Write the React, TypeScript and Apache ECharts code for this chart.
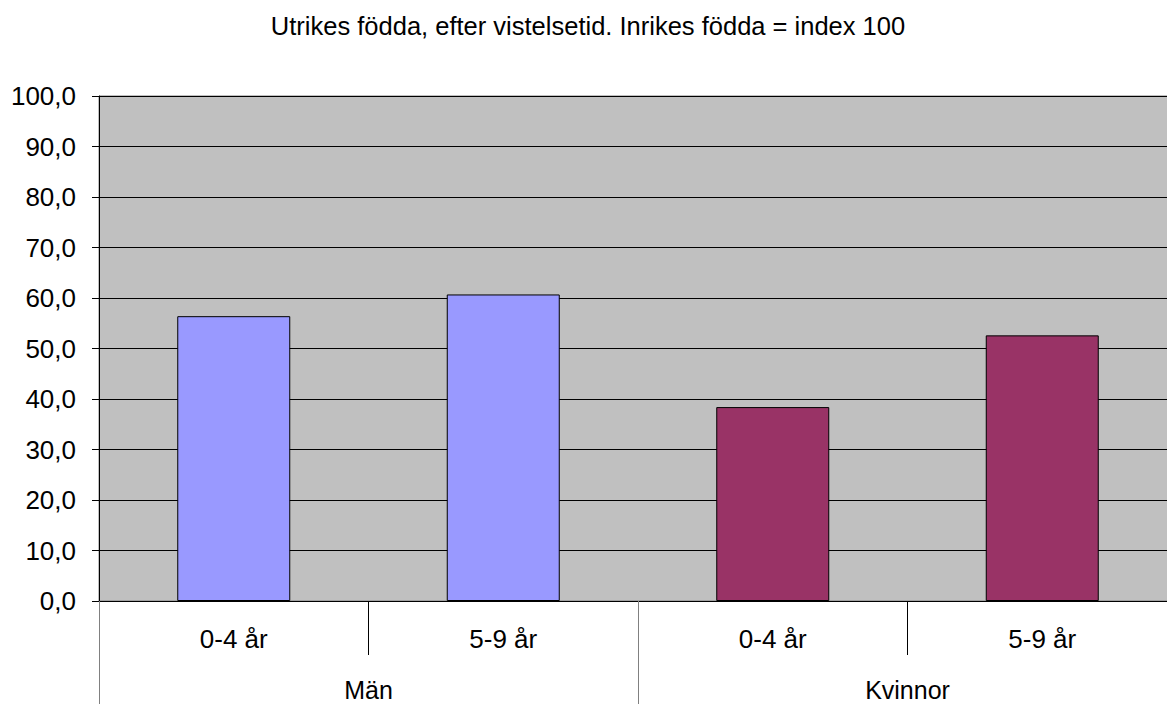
import React, { useEffect, useRef } from "react";
import * as echarts from "echarts";

const titleText = "Utrikes födda, efter vistelsetid. Inrikes födda = index 100";
const subCategories = ["0-4 år", "5-9 år", "0-4 år", "5-9 år"];
const groupCategories = ["Män", "Kvinnor"];
const values = [56.4, 60.7, 38.4, 52.6];
const barColors = ["#9999FF", "#9999FF", "#993366", "#993366"];
const yMin = 0;
const yMax = 100;
const yInterval = 10;

const FONT = "'Liberation Sans', Arial, sans-serif";

export default function App() {
  const ref = useRef<HTMLDivElement>(null);
  useEffect(() => {
    if (!ref.current) return;
    const chart = echarts.init(ref.current, undefined, { renderer: "svg" });
    chart.setOption({
      animation: false,
      backgroundColor: "#ffffff",
      textStyle: { fontFamily: FONT },
      graphic: [
        {
          type: "text",
          x: 588,
          y: 26,
          style: {
            text: titleText,
            fill: "#000",
            font: `25.5px ${FONT}`,
            align: "center",
            verticalAlign: "middle",
            textAlign: "center",
            textVerticalAlign: "middle",
          },
        },
      ],
      grid: {
        left: 99,
        top: 96,
        width: 1078,
        height: 505,
        show: true,
        backgroundColor: "#C0C0C0",
        borderColor: "#808080",
        borderWidth: 1,
        containLabel: false,
        outerBoundsMode: "none",
      },
      xAxis: [
        {
          type: "category",
          data: subCategories,
          position: "bottom",
          axisLine: { show: true, lineStyle: { color: "#000", width: 1 } },
          axisTick: { show: true, length: 54, lineStyle: { color: "#000", width: 1 } },
          axisLabel: { margin: 25, fontSize: 26, color: "#000", fontFamily: FONT },
          splitLine: { show: false },
        },
        {
          type: "category",
          data: groupCategories,
          position: "bottom",
          gridIndex: 0,
          axisLine: { show: false },
          axisTick: { show: true, length: 104, lineStyle: { color: "#808080", width: 1 } },
          axisLabel: {
            margin: 76,
            fontSize: 25,
            color: "#000",
            fontFamily: FONT,
          },
          splitLine: { show: false },
        },
      ],
      yAxis: {
        type: "value",
        min: yMin,
        max: yMax,
        interval: yInterval,
        axisLine: { show: true, lineStyle: { color: "#000", width: 1 } },
        axisTick: { show: true, length: 7, lineStyle: { color: "#000" } },
        axisLabel: {
          margin: 23,
          fontSize: 26,
          color: "#000",
          fontFamily: FONT,
          formatter: (v: number) => v.toFixed(1).replace(".", ","),
        },
        splitLine: { show: true, lineStyle: { color: "#000", width: 1 } },
      },
      series: [
        {
          type: "bar",
          xAxisIndex: 0,
          barWidth: 113,
          data: values.map((v, i) => ({
            value: v,
            itemStyle: { color: barColors[i], borderColor: "#000", borderWidth: 1 },
          })),
        },
      ],
    });
    return () => chart.dispose();
  }, []);
  return (
    <div
      ref={ref}
      style={{ position: "fixed", left: 0, top: 0, width: 1167, height: 704 }}
    />
  );
}
